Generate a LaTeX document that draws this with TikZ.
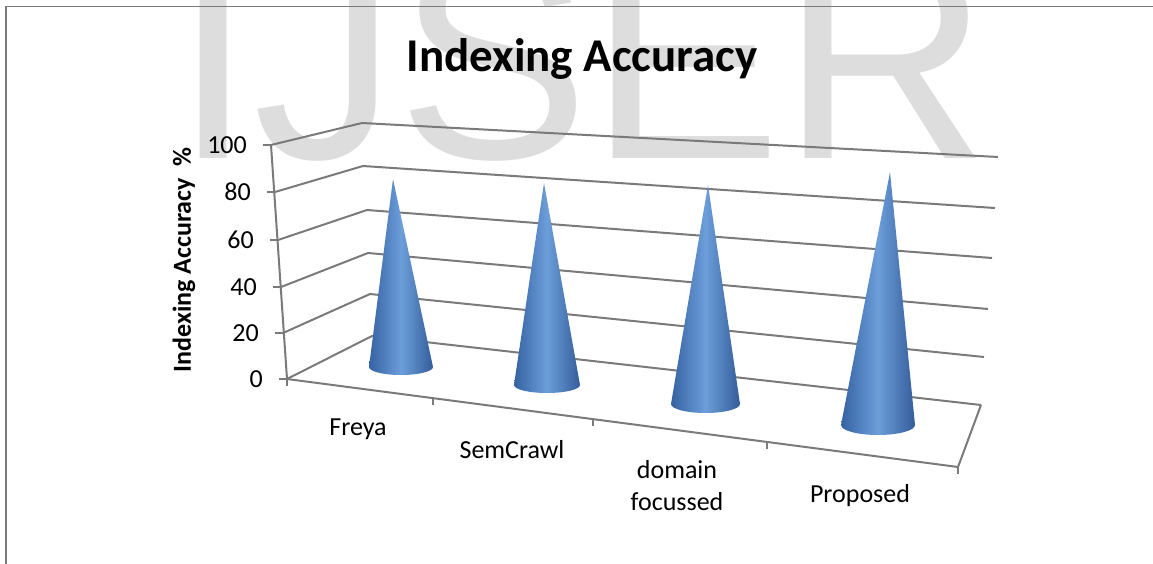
\documentclass[tikz,border=0pt]{standalone}
\usepackage{fontspec}
\setmainfont{Carlito}
\newfontfamily\markfont{Liberation Sans}
\definecolor{gridgray}{RGB}{122,122,122}
\definecolor{markgray}{RGB}{221,221,221}
\definecolor{conedark}{RGB}{54,98,162}
\definecolor{conelight}{RGB}{108,158,218}

\begin{document}
\begin{tikzpicture}[x=1pt, y=-1pt,
  grid/.style={draw=gridgray, line width=2pt},
  lab/.style={inner sep=0pt, font=\fontsize{26}{32}\selectfont},
  cone/.style={left color=conedark, right color=conedark!95!black, middle color=conelight}]
\useasboundingbox (0,0) rectangle (1153,564);
\node[anchor=base west, inner sep=0pt, text=markgray,
      font=\markfont\fontsize{288}{288}\selectfont] (mark) at (173,159) {IJSER};
\draw[grid, line width=1.5pt] (6,564) -- (6,6.5) -- (1153,6.5);
\node[anchor=base, inner sep=0pt, font=\bfseries\fontsize{47}{50}\selectfont] (title) at (582,72) {Indexing Accuracy};
%
% walls: front axis point / back corner / right end
\foreach \v/\fx/\fy/\bx/\by/\rx/\ry in {100/271/145/362/123/998/157,
                                      80/275/192/363/166/995/208,
                                      60/278/240/367/210/992/258,
                                      40/281/287/368/253/988/309,
                                      20/283/333/370/294/984/357,
                                       0/287/379/372/336/981/405}{
  \coordinate (f\v) at (\fx,\fy);
  \coordinate (b\v) at (\bx,\by);
  \coordinate (r\v) at (\rx,\ry);
  \draw[grid] (f\v) -- (b\v) -- (r\v);
  \draw[grid] (f\v) -- ++(-8,0) coordinate(t\v);
  \node[lab, anchor=east] (y\v) at ([xshift=-16pt]t\v) {\v};
}
\draw[grid] (f100) -- (f0) -- (958,467) coordinate(fr) -- (r0);
\foreach \x/\y [count=\i] in {287/379, 433/398, 593/419, 767/442, 958/467}
  \draw[grid] (\x,\y) coordinate(c\i) -- ++(0,7);
%
% cones: apex / base centre / radii
\foreach \ax/\ay/\cx/\cy/\rx/\ry in {393/179/401/367/32/8,
                                     544/183/547/385/33/8,
                                     708/185/705.5/404/34.5/9,
                                     890/172/878/425/37/10}
  \shade[cone] (\ax,\ay) -- (\cx-\rx,\cy)
     arc[start angle=180, end angle=0, x radius=\rx, y radius=\ry] -- cycle;
%
\node[rotate=90, inner sep=0pt, font=\bfseries\fontsize{26}{32}\selectfont] (ytitle) at (184,260) {Indexing Accuracy\ \ \%};
\node[lab, anchor=base] (freya) at (358,435) {Freya};
\node[lab, anchor=base] (semcrawl) at (512,458) {SemCrawl};
\node[lab, anchor=base, align=center] (domain) at (677,510) {domain\\focussed};
\node[lab, anchor=base] (proposed) at (860,502) {Proposed};
\end{tikzpicture}
\end{document}
